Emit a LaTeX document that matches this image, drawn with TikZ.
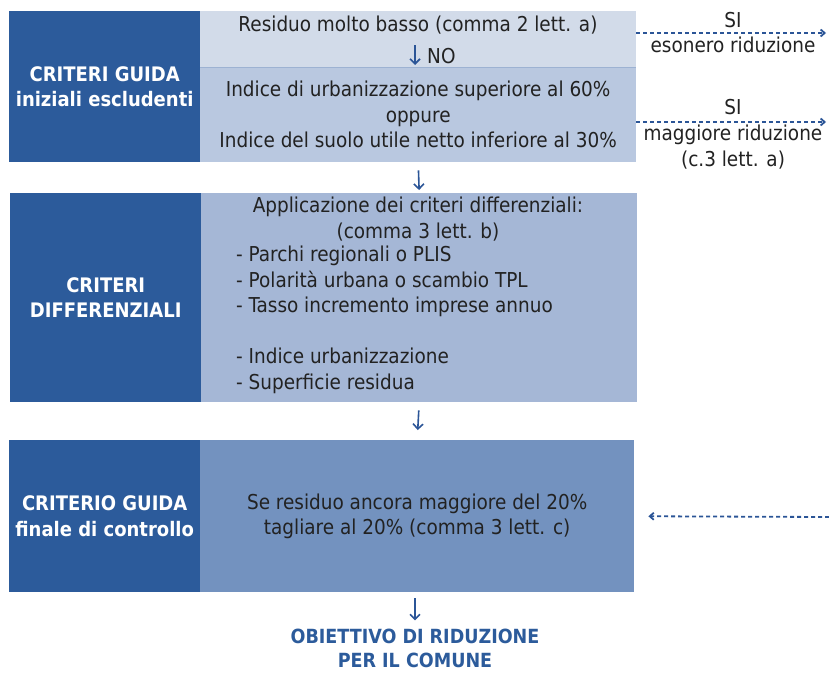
\documentclass[tikz,border=0pt]{standalone}
\usepackage{fontspec}
\setmainfont{DejaVu Sans Condensed}
\usepackage{xcolor}
\usetikzlibrary{positioning,arrows.meta}

\definecolor{darkblue}{HTML}{2C5B9B}
\definecolor{paleblue}{HTML}{D2DBE9}
\definecolor{softblue}{HTML}{B9C8E0}
\definecolor{midblue}{HTML}{A5B7D6}
\definecolor{deepblue}{HTML}{7392BF}
\definecolor{arrowblue}{HTML}{2B5597}
\definecolor{textgrey}{HTML}{222222}

\begin{document}
\begin{tikzpicture}[
  x=1pt, y=-1pt,
  every node/.style={
    text=textgrey,
    font=\fontsize{20.5}{25.5}\selectfont,
    inner sep=0pt
  },
  headbox/.style={
    fill=darkblue,
    text=white,
    font=\fontsize{20}{25.5}\selectfont\bfseries,
    align=center,
    minimum width=191pt,
    anchor=north west
  },
  bodybox/.style={
    minimum width=436pt,
    align=center,
    anchor=north west
  },
  downarr/.style={-{Straight Barb[length=5pt,width=10pt]}, line width=1.6pt, draw=arrowblue},
  dasharr/.style={-{Straight Barb[length=4pt,width=7pt]}, line width=1.8pt, draw=arrowblue,
    dash pattern=on 4pt off 3pt}
]
  \useasboundingbox (0,0) rectangle (829,673);

  % primo blocco
  \node[headbox, minimum height=151pt] (guida) at (9,11) {CRITERI GUIDA\\iniziali escludenti};
  \node[bodybox, fill=paleblue, minimum height=56pt] (residuo) at (200,11) {};
  \node[bodybox, fill=softblue, minimum height=95pt] (indice) at (200,67)
    {Indice di urbanizzazione superiore al 60\%\\oppure\\Indice del suolo utile netto inferiore al 30\%};
  \draw[softblue!80!darkblue, line width=0.8pt] (residuo.south west) -- (residuo.south east);
  \node (residuotxt) at (418,25) {Residuo molto basso (comma 2 lett. a)};
  \node[anchor=west] (no) at (427,56) {NO};
  \coordinate (notop) at (415,45);
  \coordinate (nobot) at (415,65);
  \draw[downarr] (notop) -- (nobot);

  % uscite laterali
  \coordinate (esonero) at (826,33);
  \coordinate (maggiore) at (826,122);
  \draw[dasharr] (residuo.east |- esonero) -- (esonero);
  \draw[dasharr] (indice.east |- maggiore) -- (maggiore);
  \node (si1) at (733,20) {SI};
  \node (eso) at (733,45) {esonero riduzione};
  \node (si2) at (733,107) {SI};
  \node[align=center] (mag) at (733,147) {maggiore riduzione\\(c.3 lett. a)};

  % secondo blocco
  \node[headbox, minimum height=209pt] (diff) at (10,193) {CRITERI\\DIFFERENZIALI};
  \node[bodybox, fill=midblue, minimum height=209pt] (applic) at (201,193) {};
  \node[align=center] (applictxt) at (418,219) {Applicazione dei criteri differenziali:\\(comma 3 lett. b)};
  \node[align=left, anchor=north west] (elenco) at (236,246)
    {- Parchi regionali o PLIS\\- Polarità urbana o scambio TPL\\- Tasso incremento imprese annuo\\[25.5pt]- Indice urbanizzazione\\- Superficie residua};

  \draw[downarr, shorten <=8pt, shorten >=3pt] (indice.south) -- (applic.north);

  % terzo blocco
  \node[headbox, minimum height=152pt] (finale) at (9,440)
    {CRITERIO GUIDA\\finale di controllo};
  \node[bodybox, fill=deepblue, minimum width=434pt, minimum height=152pt] (taglio) at (200,440)
    {Se residuo ancora maggiore del 20\%\\tagliare al 20\% (comma 3 lett. c)};

  \draw[downarr, shorten <=8pt, shorten >=10pt] (applic.south) -- (taglio.north);

  \coordinate (ritorno) at (829,517);
  \draw[dasharr, shorten >=14pt] (ritorno) -- (taglio.east);

  % obiettivo
  \node[align=center, text=darkblue, font=\fontsize{19.5}{24}\selectfont\bfseries] (obiettivo) at (415,648)
    {OBIETTIVO DI RIDUZIONE\\PER IL COMUNE};
  \draw[downarr, shorten <=6pt, shorten >=8pt] (taglio.south -| obiettivo) -- (obiettivo.north);
\end{tikzpicture}
\end{document}
